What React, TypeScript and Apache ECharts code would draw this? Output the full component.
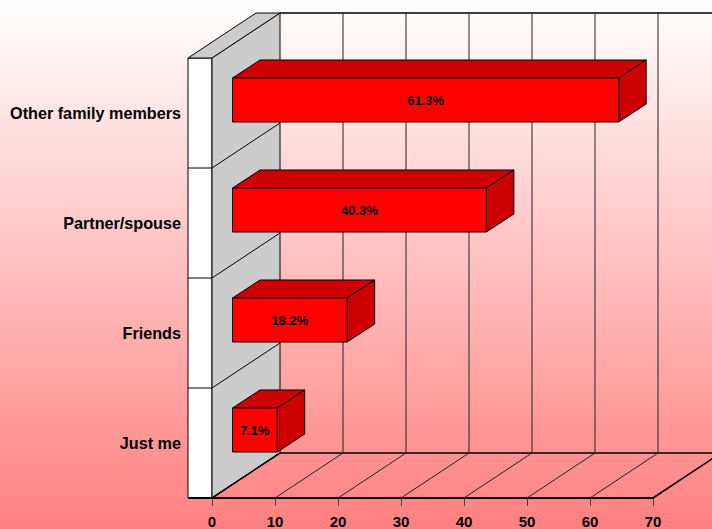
import React, { useEffect, useRef } from "react";
import * as echarts from "echarts";

const categories = ["Just me", "Friends", "Partner/spouse", "Other family members"];
const values = [7.1, 18.2, 40.3, 61.3];
const barLabels = ["7.1%", "18.2%", "40.3%", "61.3%"];
const xTicks = [0, 10, 20, 30, 40, 50, 60, 70];

const DX = 68;
const DY = -45;
const PANEL = 24;
const LINE = "#000000";
const FONT = "'Liberation Sans', Arial, sans-serif";

export default function App() {
  const ref = useRef<HTMLDivElement>(null);
  useEffect(() => {
    document.body.style.margin = "0";
    const chart = echarts.init(ref.current!, undefined, { renderer: "svg" });
    const yEdge = (api: any, boundary: number) => {
      const band = api.size([0, 1])[1];
      return boundary === 0
        ? api.coord([0, 0])[1] + band / 2
        : api.coord([0, boundary - 1])[1] - band / 2;
    };
    chart.setOption({
      animation: false,
      backgroundColor: new echarts.graphic.LinearGradient(0, 0, 0, 1, [
        { offset: 0, color: "#FFFFFF" },
        { offset: 1, color: "#FF8080" },
      ]),
      grid: { left: 212, width: 441, top: 58, height: 440, outerBoundsMode: "none" },
      xAxis: {
        type: "value",
        min: 0,
        max: 70,
        interval: 10,
        splitLine: { show: false },
        axisLine: { show: true, onZero: false, lineStyle: { color: LINE, width: 2 } },
        axisTick: { show: true, length: 8, lineStyle: { color: "#444", width: 1 } },
        axisLabel: { color: "#000", fontFamily: FONT, fontWeight: "bold", fontSize: 15, margin: 16 },
      },
      yAxis: {
        type: "category",
        data: categories,
        axisLine: { show: false },
        axisTick: { show: false },
        axisLabel: { color: "#000", fontFamily: FONT, fontWeight: "bold", fontSize: 16.2, margin: 31 },
      },
      series: [
        {
          type: "custom",
          z: 1,
          silent: true,
          data: [[0, 0]],
          renderItem: (_p: any, api: any) => {
            const x0 = api.coord([0, 0])[0];
            const x1 = api.coord([70, 0])[0];
            const yB = yEdge(api, 0);
            const yT = yEdge(api, categories.length);
            const stroke = { stroke: LINE, lineWidth: 1 };
            const children: any[] = [
              { type: "polygon", shape: { points: [[x0 - PANEL, yT], [x0, yT], [x0, yB], [x0 - PANEL, yB]] }, style: { fill: "#FFFFFF", ...stroke } },
              { type: "polygon", shape: { points: [[x0, yT], [x0 + DX, yT + DY], [x0 + DX, yB + DY], [x0, yB]] }, style: { fill: "#CCCCCC", ...stroke } },
              { type: "polygon", shape: { points: [[x0 - PANEL, yT], [x0 - PANEL + DX, yT + DY], [x0 + DX, yT + DY], [x0, yT]] }, style: { fill: "#CCCCCC", ...stroke } },
              { type: "line", shape: { x1: x0 + DX, y1: yT + DY, x2: x1 + DX, y2: yT + DY }, style: { ...stroke, lineWidth: 1.5 } },
              { type: "line", shape: { x1: x0 + DX, y1: yB + DY, x2: x1 + DX, y2: yB + DY }, style: { ...stroke, lineWidth: 1.5 } },
              { type: "line", shape: { x1: x0, y1: yB, x2: x0 + DX, y2: yB + DY }, style: { ...stroke, lineWidth: 1.5 } },
              { type: "line", shape: { x1: x1, y1: yB, x2: x1 + DX, y2: yB + DY }, style: { ...stroke, lineWidth: 1.5 } },
              { type: "line", shape: { x1: x0 - PANEL, y1: yB, x2: x0, y2: yB }, style: { ...stroke, lineWidth: 2 } },
            ];
            for (let i = 1; i < categories.length; i++) {
              const y = yEdge(api, i);
              children.push({ type: "line", shape: { x1: x0 - PANEL, y1: y, x2: x0, y2: y }, style: stroke });
              children.push({ type: "line", shape: { x1: x0, y1: y, x2: x0 + DX, y2: y + DY }, style: stroke });
            }
            return { type: "group", children };
          },
        },
        {
          type: "custom",
          z: 2,
          silent: true,
          data: xTicks.slice(1, -1).map((t) => [t, 0]),
          renderItem: (_p: any, api: any) => {
            const x = api.coord([api.value(0), 0])[0];
            const yB = yEdge(api, 0);
            const yT = yEdge(api, categories.length);
            return {
              type: "group",
              children: [
                { type: "line", shape: { x1: x + DX, y1: yT + DY, x2: x + DX, y2: yB + DY }, style: { stroke: "#222", lineWidth: 1 } },
                { type: "line", shape: { x1: x, y1: yB, x2: x + DX, y2: yB + DY }, style: { stroke: "#222", lineWidth: 1 } },
              ],
            };
          },
        },
        {
          type: "custom",
          z: 3,
          data: values.map((v, i) => [v, i, barLabels[i]]),
          encode: { x: 0, y: 1 },
          renderItem: (_p: any, api: any) => {
            const band = api.size([0, 1])[1];
            const h = band * 0.4;
            const ox = 20.5;
            const oy = -13;
            const dx = 27.5;
            const dy = -18;
            const [xv, yc] = api.coord([api.value(0), api.value(1)]);
            const x0 = api.coord([0, 0])[0] + ox;
            const x1 = xv + ox;
            const top = yc + oy - h / 2;
            const bot = yc + oy + h / 2;
            const stroke = { stroke: LINE, lineWidth: 1 };
            return {
              type: "group",
              children: [
                { type: "polygon", shape: { points: [[x0, top], [x0 + dx, top + dy], [x1 + dx, top + dy], [x1, top]] }, style: { fill: "#CC0000", ...stroke } },
                { type: "polygon", shape: { points: [[x1, top], [x1 + dx, top + dy], [x1 + dx, bot + dy], [x1, bot]] }, style: { fill: "#CC0000", ...stroke } },
                { type: "rect", shape: { x: x0, y: top, width: x1 - x0, height: bot - top }, style: { fill: "#FF0000", ...stroke } },
                {
                  type: "text",
                  style: {
                    x: (x0 + x1) / 2,
                    y: (top + bot) / 2,
                    text: api.value(2),
                    fill: "#000",
                    align: "center",
                    verticalAlign: "middle",
                    fontFamily: FONT,
                    fontWeight: "bold",
                    fontSize: 13,
                  },
                },
              ],
            };
          },
        },
      ],
    });
    return () => chart.dispose();
  }, []);
  return <div ref={ref} style={{ width: 712, height: 529, overflow: "hidden" }} />;
}
